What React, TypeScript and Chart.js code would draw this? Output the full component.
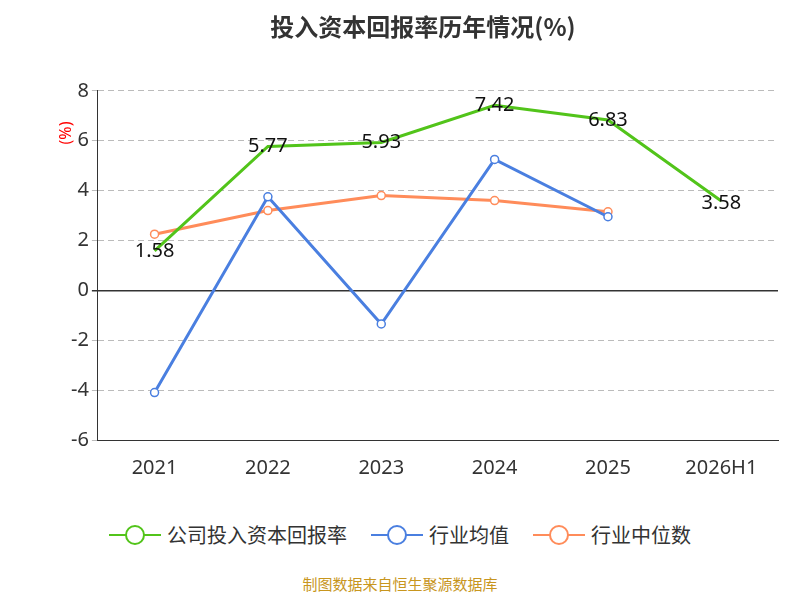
import React, { useEffect, useRef } from "react";
import { Chart, registerables } from "chart.js";
Chart.register(...registerables);

const categories = ["2021", "2022", "2023", "2024", "2025", "2026H1"];
const company = [1.58, 5.77, 5.93, 7.42, 6.83, 3.58];
const industryMean = [-4.1, 3.75, -1.35, 5.25, 2.95, null];
const industryMedian = [2.25, 3.2, 3.8, 3.6, 3.15, null];
const legendItems = [
  { label: "公司投入资本回报率", color: "#52c41a" },
  { label: "行业均值", color: "#4a7fe0" },
  { label: "行业中位数", color: "#ff8c5a" },
];

const labelPlugin = {
  id: "labels",
  afterDatasetsDraw(chart: any) {
    const ctx = chart.ctx;
    const meta = chart.getDatasetMeta(0);
    ctx.save();
    ctx.font = "20px 'Noto Sans', sans-serif";
    ctx.fillStyle = "#111";
    ctx.textAlign = "center";
    ctx.textBaseline = "middle";
    meta.data.forEach((p: any, i: number) => {
      const dy = i === 0 ? 0 : i === 5 ? 2 : 0;
      ctx.fillText(company[i].toFixed(2), p.x, p.y + dy);
    });
    ctx.translate(58, 125);
    ctx.rotate(-Math.PI / 2);
    ctx.font = "16px 'Noto Sans', sans-serif";
    ctx.fillStyle = "red";
    ctx.fillText("(%)", 0, 0);
    ctx.restore();
  },
};

export default function App() {
  const ref = useRef<HTMLCanvasElement>(null);
  useEffect(() => {
    const chart = new Chart(ref.current!, {
      type: "line",
      data: {
        labels: categories,
        datasets: [
          { data: company, borderColor: "#52c41a", backgroundColor: "#fff", borderWidth: 3, pointRadius: 0, tension: 0 },
          { data: industryMean, borderColor: "#4a7fe0", backgroundColor: "#fff", borderWidth: 3, pointRadius: 4, pointBorderWidth: 1.5, tension: 0 },
          { data: industryMedian, borderColor: "#ff8c5a", backgroundColor: "#fff", borderWidth: 3, pointRadius: 4, pointBorderWidth: 1.5, tension: 0 },
        ],
      },
      options: {
        animation: false,
        responsive: false,
        layout: { padding: { left: 60, right: 14, top: 0 } },
        plugins: {
          legend: { display: false },
          tooltip: { enabled: false },
          title: {
            display: true,
            text: "投入资本回报率历年情况(%)",
            font: { size: 24, weight: "bold", family: "'Noto Sans CJK SC', sans-serif" },
            color: "#333",
            padding: { top: 4, bottom: 50 },
          },
        },
        scales: {
          x: {
            offset: true,
            grid: { display: false },
            border: { color: "#333" },
            ticks: { color: "#333", font: { size: 20, family: "'Noto Sans', sans-serif" }, padding: 8 },
          },
          y: {
            min: -6,
            max: 8,
            ticks: { stepSize: 2, color: "#333", font: { size: 20, family: "'Noto Sans', sans-serif" } },
            grid: {
              color: (c: any) => (c.tick.value === 0 ? "#333" : "#bbb"),
              lineWidth: (c: any) => (c.tick.value === 0 ? 1.5 : 1),
              tickLength: 6,
            },
            border: { color: "#333", dash: (c: any) => (c.tick && c.tick.value === 0 ? [] : [6, 4]) },
          },
        },
      },
      plugins: [labelPlugin],
    });
    return () => chart.destroy();
  }, []);
  return (
    <div style={{ width: 784, fontFamily: "'Noto Sans CJK SC', sans-serif" }}>
      <canvas ref={ref} width={784} height={480} />
      <div style={{ display: "flex", justifyContent: "center", gap: 24, marginTop: 32, fontSize: 20, color: "#333" }}>
        {legendItems.map((l) => (
          <div key={l.label} style={{ display: "flex", alignItems: "center", gap: 6 }}>
            <svg width="52" height="24">
              <line x1="0" y1="12" x2="52" y2="12" stroke={l.color} strokeWidth="2" />
              <circle cx="26" cy="12" r="9" fill="#fff" stroke={l.color} strokeWidth="2" />
            </svg>
            <span>{l.label}</span>
          </div>
        ))}
      </div>
      <div style={{ textAlign: "center", marginTop: 24, fontSize: 15, color: "#c8961e" }}>制图数据来自恒生聚源数据库</div>
    </div>
  );
}
